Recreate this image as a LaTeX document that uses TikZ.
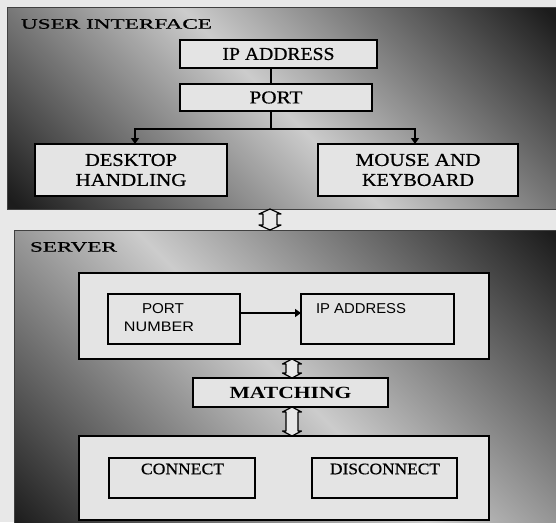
\documentclass[tikz,border=0pt]{standalone}
\usepackage{fontspec}
\setmainfont{Liberation Serif}
\newfontfamily\sansf{Liberation Sans}
\newfontfamily\heavy[FakeBold=0.6]{Liberation Serif}
\usetikzlibrary{arrows.meta,calc}
\definecolor{bg}{HTML}{E8E8E8}
\definecolor{boxfill}{HTML}{E4E4E4}
\definecolor{pdark}{HTML}{1C1C1C}
\definecolor{plight}{HTML}{CCCCCC}
\pgfdeclareverticalshading{paneldiag}{100bp}{color(0bp)=(pdark); color(35bp)=(pdark); color(50bp)=(plight); color(65bp)=(pdark); color(100bp)=(pdark)}
\newcommand\fitx[3]{\resizebox{#1pt}{#2pt}{#3}}
% hollow double arrow between two points: #1 top, #2 bottom, #3 stem half width, #4 head half width, #5 head length
\newcommand\dblarr[5]{%
  \draw[darr] let \p1=(#1), \p2=(#2) in
    (\x1,\y1) -- (\x1+#4,\y1-#5) -- (\x1+#3,\y1-#5) -- (\x1+#3,\y2+#5) -- (\x1+#4,\y2+#5)
    -- (\x1,\y2) -- (\x1-#4,\y2+#5) -- (\x1-#3,\y2+#5) -- (\x1-#3,\y1-#5) -- (\x1-#4,\y1-#5) -- cycle;}
% diagonal gradient inside a panel node: #1 node, #2 half side of the shading square
\newcommand\panelshade[2]{%
  \begin{scope}
    \clip (#1.north west) rectangle (#1.south east);
    \shade[shading=paneldiag, shading angle=-45]
      ($(#1.center)+(-#2,-#2)$) rectangle ($(#1.center)+(#2,#2)$);
  \end{scope}
  \draw[draw=black!75, line width=1pt] (#1.north west) rectangle (#1.south east);}
\begin{document}
\begin{tikzpicture}[x=1pt,y=-1pt,
  panel/.style={inner sep=0pt, outer sep=0pt, anchor=north west},
  box/.style={draw=black, line width=1.6pt, fill=boxfill, inner sep=0pt, outer sep=0pt, anchor=north west, font=\heavy},
  txt/.style={inner sep=0pt, outer sep=0pt, text=black, font=\heavy},
  conn/.style={line width=1.8pt, black},
  tip/.style={-{Triangle[length=6pt,width=8pt]}},
  darr/.style={draw=black, line width=1.2pt, fill=bg, line join=round}]
\useasboundingbox (0,0) rectangle (556,522);
\clip (0,0) rectangle (556,522);
\fill[bg] (0,0) rectangle (556,522);
% panels
\node[panel, minimum width=549pt, minimum height=202pt] (ui) at (7,7) {};
\node[panel, minimum width=542pt, minimum height=300pt] (srv) at (14,230) {};
\panelshade{ui}{430}
\panelshade{srv}{490}
\node[txt] (uil) at (116.5,24) {\fitx{191}{9.5}{USER INTERFACE}};
\node[txt] (srvl) at (73.5,247) {\fitx{87}{9.5}{SERVER}};
% user interface boxes
\node[box, minimum width=197pt, minimum height=28pt] (ipA) at (180,40) {\fitx{112}{12}{IP ADDRESS}};
\node[box, minimum width=192pt, minimum height=27pt] (portA) at (180,84) {\fitx{53}{12}{PORT}};
\node[box, minimum width=192pt, minimum height=52pt, align=center, font=\heavy\fontsize{10}{20}\selectfont] (desk) at (35,144)
  {\fitx{92}{12}{DESKTOP}\\\fitx{111}{12}{HANDLING}};
\node[box, minimum width=200pt, minimum height=52pt, align=center, font=\heavy\fontsize{10}{20}\selectfont] (mouse) at (318,144)
  {\fitx{125}{12}{MOUSE AND}\\\fitx{112}{12}{KEYBOARD}};
% server boxes
\node[box, minimum width=410pt, minimum height=86pt] (in1) at (79,273) {};
\node[box, minimum width=132pt, minimum height=50pt] (pn) at (108,294) {};
\node[box, minimum width=153pt, minimum height=50pt] (ipB) at (301,294) {};
\node[box, minimum width=195pt, minimum height=29pt, font=\rmfamily] (match) at (193,378) {\fitx{122}{11.3}{\bfseries MATCHING}};
\node[box, minimum width=410pt, minimum height=84pt] (in2) at (79,436) {};
\node[box, minimum width=146pt, minimum height=40pt] (con) at (109,458) {};
\node[box, minimum width=145pt, minimum height=40pt] (dis) at (312,458) {};
\node[txt] (pnt1) at (163,308.5) {\fitx{42}{10}{\sansf PORT}};
\node[txt] (pnt2) at (159,326.5) {\fitx{70}{9.5}{\sansf NUMBER}};
\node[txt] (ipt) at (361,309) {\fitx{90}{10}{\sansf IP ADDRESS}};
\node[txt] (cont) at (182.5,469) {\fitx{83}{10.6}{CONNECT}};
\node[txt] (dist) at (385,469) {\fitx{110}{10.6}{DISCONNECT}};
% connectors
\coordinate (bus) at (271,129);
\coordinate (ypn) at (0,313);
\coordinate (ax1) at (270,0);
\coordinate (ax2) at (292,0);
\draw[conn] (ipA.south -| bus) -- (portA.north -| bus);
\draw[conn] (portA.south -| bus) -- (bus);
\draw[conn, tip] (bus) -| ([xshift=4pt]desk.north);
\draw[conn, tip] (bus) -| ([xshift=-3pt]mouse.north);
\draw[conn, tip] (pn.east |- ypn) -- (ipB.west |- ypn);
\dblarr{ui.south -| ax1}{srv.north -| ax1}{7pt}{11pt}{5pt}
\dblarr{in1.south -| ax2}{match.north -| ax2}{6pt}{9.5pt}{5pt}
\dblarr{match.south -| ax2}{in2.north -| ax2}{6pt}{9.5pt}{5pt}
\end{tikzpicture}
\end{document}
